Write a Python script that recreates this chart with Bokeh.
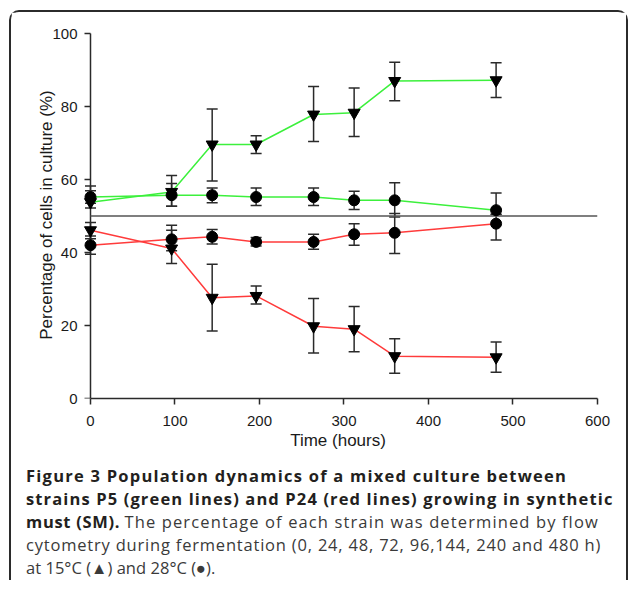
from bokeh.plotting import figure
from bokeh.models import Range1d, Whisker, ColumnDataSource, FixedTicker, TeeHead, Div
from bokeh.layouts import column
from bokeh.embed import file_html
from bokeh.resources import INLINE

# ---------------- data ----------------
hours = [0, 96, 144, 196, 264, 312, 360, 480]

green_15 = [53.8, 56.6, 69.6, 69.6, 77.8, 78.3, 87.0, 87.2]
green_15_hi = [58.2, 61.1, 79.3, 72.0, 85.5, 85.1, 92.1, 92.0]
green_15_lo = [52.2, 52.7, 59.6, 67.1, 70.4, 71.8, 81.6, 82.5]

green_28 = [55.2, 55.7, 55.7, 55.2, 55.2, 54.3, 54.3, 51.6]
green_28_hi = [56.9, 58.9, 57.7, 57.7, 57.7, 56.8, 59.1, 56.3]
green_28_lo = [53.5, 52.7, 53.6, 52.9, 52.9, 51.8, 49.7, 50.4]

red_15 = [46.1, 41.1, 27.6, 28.1, 19.8, 19.0, 11.6, 11.3]
red_15_hi = [48.2, 46.1, 36.8, 30.8, 27.4, 25.2, 16.4, 15.5]
red_15_lo = [43.8, 37.0, 18.5, 25.9, 12.5, 12.8, 6.9, 7.2]

red_28 = [42.0, 43.6, 44.3, 42.9, 42.9, 45.0, 45.4, 47.9]
red_28_hi = [44.5, 47.5, 46.3, 44.1, 45.0, 47.9, 50.7, 50.5]
red_28_lo = [39.5, 40.5, 42.3, 41.8, 40.9, 42.0, 39.7, 43.4]

reference_level = 50
x_axis_span = [0, 600]
y_axis_span = [0, 100]

x_ticks = [0, 100, 200, 300, 400, 500, 600]
y_ticks = [0, 20, 40, 60, 80, 100]

x_label = "Time (hours)"
y_label = "Percentage of cells in culture (%)"

caption_bold = [
    "Figure 3 Population dynamics of a mixed culture between",
    "strains P5 (green lines) and P24 (red lines) growing in synthetic",
    "must (SM).",
]
caption_regular = [
    "The percentage of each strain was determined by flow",
    "cytometry during fermentation (0, 24, 48, 72, 96,144, 240 and 480 h)",
    "at 15\u00b0C (\u25b2) and 28\u00b0C (\u25cf).",
]

GREEN = "#3cf03c"
RED = "#ff3b3b"
INK = "#2a2a2a"

# ---------------- figure ----------------
p = figure(width=615, height=446, output_backend="svg", toolbar_location=None,
           x_range=Range1d(-14.2, 600), y_range=Range1d(0, 100.55),
           min_border_left=67, min_border_right=29, min_border_top=19,
           min_border_bottom=60)
p.grid.visible = False
p.outline_line_color = None
p.background_fill_color = "white"
p.border_fill_color = "white"

for ax in (p.xaxis, p.yaxis):
    ax.axis_line_color = INK
    ax.axis_line_width = 1.5
    ax.major_tick_line_color = INK
    ax.major_tick_line_width = 1.5
    ax.major_tick_in = 0
    ax.major_tick_out = 6
    ax.minor_tick_line_color = None
    ax.major_label_text_font = "Liberation Sans"
    ax.major_label_text_font_size = "15px"
    ax.major_label_text_color = "#1a1a1a"
    ax.axis_label_text_font = "Liberation Sans"
    ax.axis_label_text_font_size = "17px"
    ax.axis_label_text_font_style = "normal"
    ax.axis_label_text_color = "#1a1a1a"

p.xaxis.ticker = FixedTicker(ticks=x_ticks)
p.yaxis.ticker = FixedTicker(ticks=y_ticks)
p.xaxis.bounds = (0, 600)
p.xaxis.axis_label = x_label
p.yaxis.axis_label = y_label
p.xaxis.major_label_standoff = 11
p.xaxis.axis_label_standoff = 2
# the y axis sits at the frame edge; its visible line and ticks are drawn at x = 0
p.yaxis.axis_line_color = None
p.yaxis.major_tick_line_color = None
p.yaxis.major_tick_out = 0
p.yaxis.major_label_standoff = 1
p.yaxis.axis_label_standoff = -7

tick_len = 6 / 0.845
p.segment(x0=[0], y0=[y_axis_span[0]], x1=[0], y1=[y_axis_span[1]],
          line_color=INK, line_width=1.5)
p.segment(x0=[-tick_len] * len(y_ticks), y0=y_ticks, x1=[0] * len(y_ticks), y1=y_ticks,
          line_color=INK, line_width=1.5)

# reference line at 50 %
p.line(x_axis_span, [reference_level, reference_level], line_color="#555555", line_width=1.3)

series = [
    (green_15, green_15_hi, green_15_lo, GREEN, "inverted_triangle"),
    (green_28, green_28_hi, green_28_lo, GREEN, "circle"),
    (red_15, red_15_hi, red_15_lo, RED, "inverted_triangle"),
    (red_28, red_28_hi, red_28_lo, RED, "circle"),
]

for vals, hi, lo, col, mk in series:
    p.line(hours, vals, line_color=col, line_width=1.5)

for vals, hi, lo, col, mk in series:
    src = ColumnDataSource(dict(x=hours, y=vals, hi=hi, lo=lo))
    w = Whisker(base="x", upper="hi", lower="lo", source=src,
                line_color=INK, line_width=1.5,
                upper_head=TeeHead(size=11, line_color=INK, line_width=1.5),
                lower_head=TeeHead(size=11, line_color=INK, line_width=1.5))
    p.add_layout(w)

for vals, hi, lo, col, mk in series:
    size = 11 if mk == "circle" else 12
    p.scatter(hours, vals, marker=mk, size=size, fill_color="black", line_color="black")

# ---------------- caption ----------------
B = '<span style="font-weight:700;color:#231f20;letter-spacing:{ls}px;">{t}</span>'
R = '<span style="font-weight:400;color:#3a3a3a;letter-spacing:{ls}px;">{t}</span>'
lines_html = [
    B.format(ls=1.24, t=caption_bold[0]),
    B.format(ls=1.13, t=caption_bold[1]),
    B.format(ls=0.7, t=caption_bold[2]) + " " + R.format(ls=1.12, t=caption_regular[0]),
    R.format(ls=0.8, t=caption_regular[1]),
    R.format(ls=0.03, t=caption_regular[2]),
]
caption_html = (
    '<div style="font-family:\'Open Sans\';font-size:16.5px;line-height:23px;'
    'white-space:nowrap;padding:6px 0 0 15px;margin:0;">'
    + "<br>".join(lines_html) + "</div>"
)
cap = Div(text=caption_html, width=615, height=122,
          styles={"margin": "0", "padding": "0"})

layout = column(p, cap, spacing=0, styles={
    "margin-top": "10px",
    "margin-left": "9px",
    "border-top": "2px solid #2b2b2b",
    "border-left": "2px solid #2b2b2b",
    "border-right": "2px solid #2b2b2b",
    "border-top-left-radius": "10px",
    "border-top-right-radius": "10px",
})

open("out.html", "w").write(file_html(layout, INLINE))
